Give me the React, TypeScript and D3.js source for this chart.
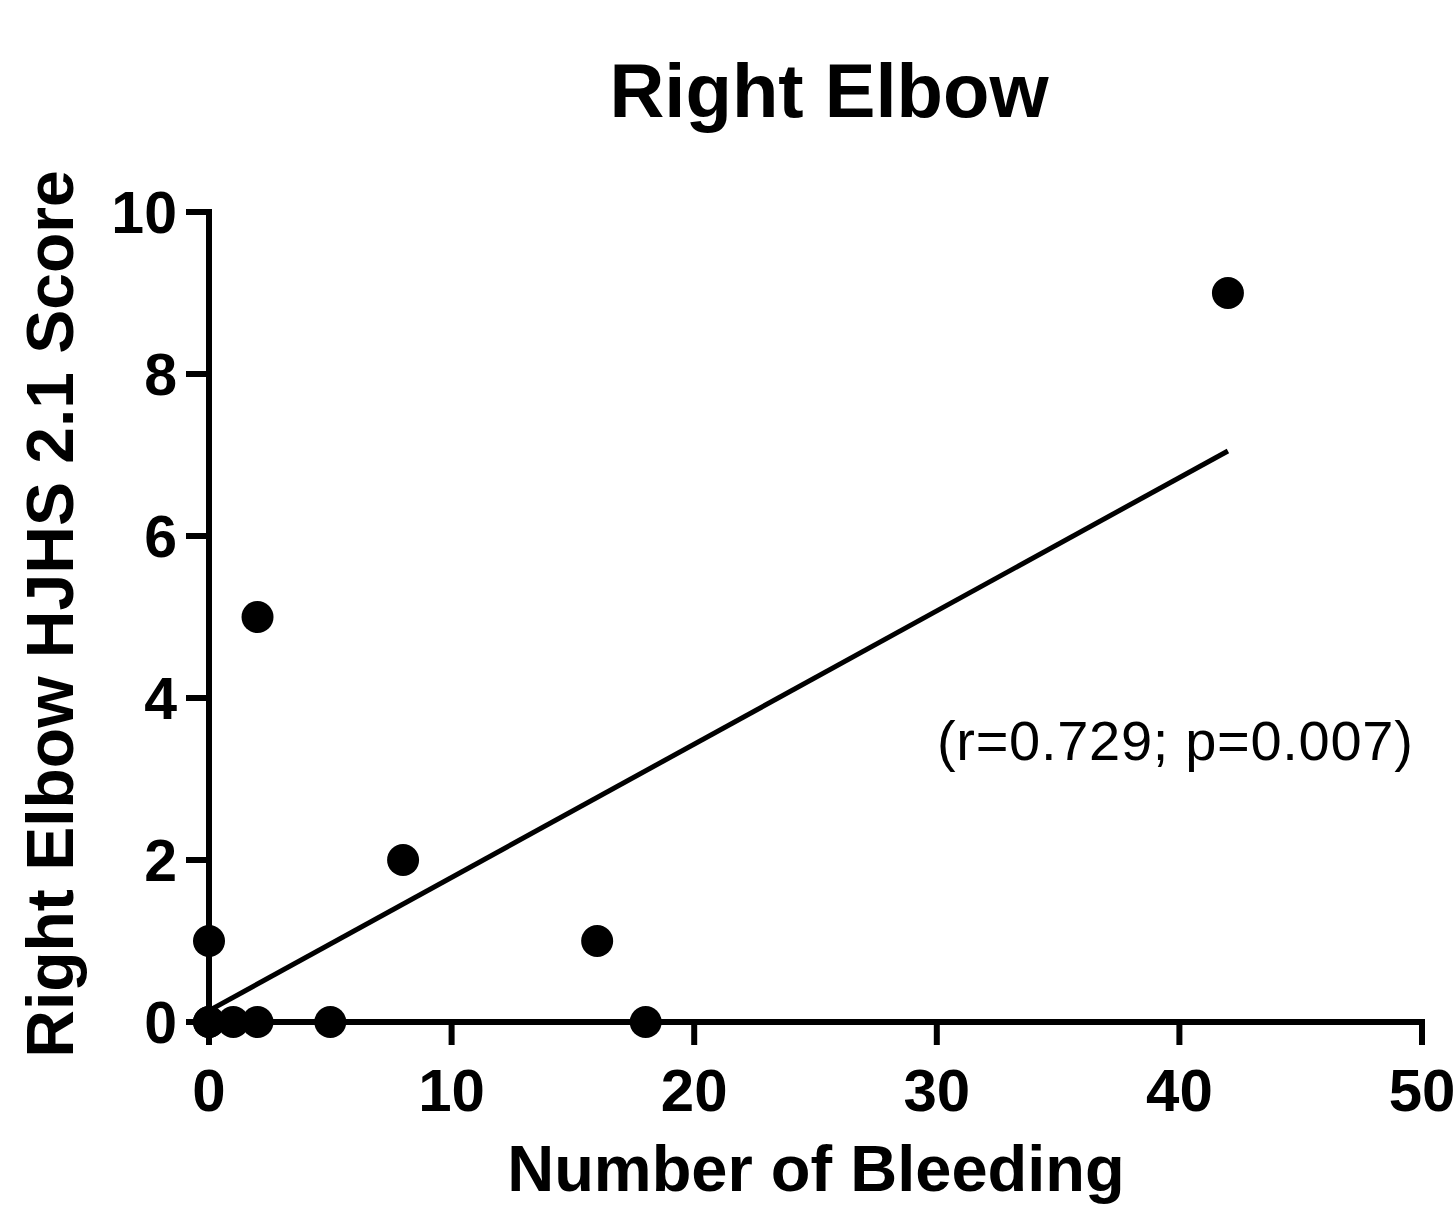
import React from "react";
import * as d3 from "d3";

const bleedX = [0, 0, 0, 1, 2, 2, 5, 8, 16, 18, 42];
const scoreY = [0, 0, 1, 0, 0, 5, 0, 2, 1, 0, 9];
const fitX = [0, 42];
const fitY = [0.14, 7.05];
const xTicks = [0, 10, 20, 30, 40, 50];
const yTicks = [0, 2, 4, 6, 8, 10];
const titleText = "Right Elbow";
const xLabel = "Number of Bleeding";
const yLabel = "Right Elbow HJHS 2.1 Score";
const statText = "(r=0.729; p=0.007)";

const W = 1456;
const H = 1205;
const FONT = "'Liberation Sans', Arial, Helvetica, sans-serif";

export default function App() {
  const x = d3.scaleLinear().domain([0, 50]).range([209, 1422]);
  const y = d3.scaleLinear().domain([0, 10]).range([1022, 212]);
  const line = d3
    .line<number>()
    .x((d) => x(d))
    .y((_, i) => y(fitY[i]));
  const tickLen = 23;
  const axisW = 6;

  return (
    <svg
      width={W}
      height={H}
      style={{ position: "absolute", left: 0, top: 0, background: "#fff" }}
      fontFamily={FONT}
    >
      <rect x={0} y={0} width={W} height={H} fill="#fff" />
      <text
        x={829}
        y={117}
        textAnchor="middle"
        fontSize={76}
        fontWeight="bold"
        fill="#000"
      >
        {titleText}
      </text>

      {/* axes */}
      <line x1={x(0)} x2={x(0)} y1={y(10) - axisW / 2} y2={y(0)} stroke="#000" strokeWidth={axisW} />
      <line x1={x(0) - tickLen} x2={x(50) + axisW / 2} y1={y(0)} y2={y(0)} stroke="#000" strokeWidth={axisW} />
      {yTicks.map((t) => (
        <g key={"y" + t}>
          <line x1={x(0) - tickLen} x2={x(0)} y1={y(t)} y2={y(t)} stroke="#000" strokeWidth={axisW} />
          <text
            x={177}
            y={y(t)}
            dy="0.36em"
            textAnchor="end"
            fontSize={59}
            fontWeight="bold"
            fill="#000"
          >
            {t}
          </text>
        </g>
      ))}
      {xTicks.map((t) => (
        <g key={"x" + t}>
          <line x1={x(t)} x2={x(t)} y1={y(0)} y2={y(0) + tickLen} stroke="#000" strokeWidth={axisW} />
          <text
            x={x(t)}
            y={1111}
            textAnchor="middle"
            fontSize={60}
            fontWeight="bold"
            fill="#000"
          >
            {t}
          </text>
        </g>
      ))}

      {/* regression line */}
      <path d={line(fitX) || ""} fill="none" stroke="#000" strokeWidth={5} />

      {/* points */}
      {bleedX.map((bx, i) => (
        <circle key={i} cx={x(bx)} cy={y(scoreY[i])} r={16} fill="#000" />
      ))}

      <text x={937} y={760} fontSize={56} letterSpacing={0.7} fill="#000">
        {statText}
      </text>

      <text
        x={816}
        y={1191}
        textAnchor="middle"
        fontSize={65}
        fontWeight="bold"
        fill="#000"
      >
        {xLabel}
      </text>
      <text
        transform={`translate(73, 614) rotate(-90)`}
        textAnchor="middle"
        fontSize={66}
        fontWeight="bold"
        fill="#000"
      >
        {yLabel}
      </text>
    </svg>
  );
}
